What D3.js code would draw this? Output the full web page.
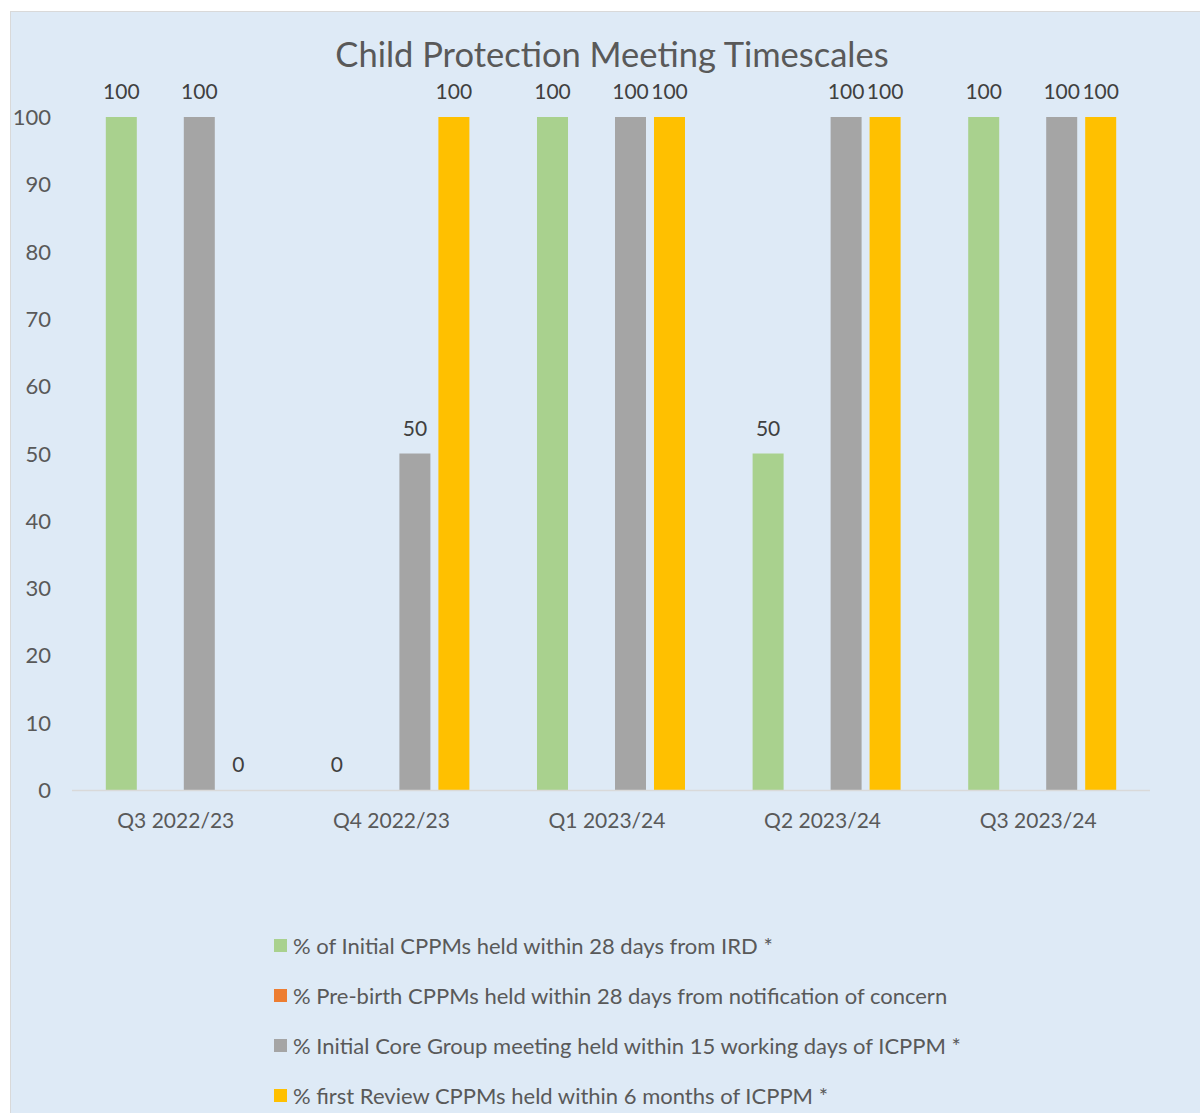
<!DOCTYPE html>
<html>
<head>
<meta charset="utf-8">
<script src="https://cdn.jsdelivr.net/npm/d3@7"></script>
<style>
  body { margin: 0; background: #ffffff; }
  svg text { font-family: Lato, "Open Sans", sans-serif; }
</style>
</head>
<body>
<div id="chart"></div>
<script>
// data
var categories = ['Q3 2022/23', 'Q4 2022/23', 'Q1 2023/24', 'Q2 2023/24', 'Q3 2023/24'];
var series_names = [
    '% of Initial CPPMs held within 28 days from IRD *',
    '% Pre-birth CPPMs held within 28 days from notification of concern',
    '% Initial Core Group meeting held within 15 working days of ICPPM *',
    '% first Review CPPMs held within 6 months of ICPPM *'
];
var initial_cppm = [100, 0, 100, 50, 100];
var prebirth_cppm = [null, null, null, null, null];
var core_group = [100, 50, 100, 100, 100];
var review_cppm = [0, 100, 100, 100, 100];
var y_ticks = [0, 10, 20, 30, 40, 50, 60, 70, 80, 90, 100];

var colors = ['#A9D18E', '#ED7D31', '#A5A5A5', '#FFC000'];
var all_series = [initial_cppm, prebirth_cppm, core_group, review_cppm];

var width = 1200;
var height = 1113;

var plot_left = 72;
var plot_right = 1150;
var plot_top = 117;
var plot_bottom = 790;

var svg = d3.select('#chart')
  .append('svg')
    .attr('width', width)
    .attr('height', height);

// chart area
svg.append('rect')
    .attr('x', 10.5)
    .attr('y', 11.5)
    .attr('width', width)
    .attr('height', height)
    .attr('fill', '#DEEAF6')
    .attr('stroke', '#D9D9D9')
    .attr('stroke-width', 1);

var x = d3.scaleBand()
    .domain(categories)
    .range([plot_left, plot_right]);

var x_inner = d3.scaleBand()
    .domain(d3.range(series_names.length))
    .range([0, x.bandwidth()])
    .paddingInner(0.205)
    .paddingOuter(0.867);

var y = d3.scaleLinear()
    .domain([0, 100])
    .range([plot_bottom, plot_top]);

// title
svg.append('text')
    .attr('x', 612)
    .attr('y', 67)
    .attr('text-anchor', 'middle')
    .attr('font-size', '34.5px')
    .attr('fill', '#595959')
    .text('Child Protection Meeting Timescales');

// y axis labels
svg.append('g')
    .selectAll('text.y-tick')
    .data(y_ticks)
  .enter()
    .append('text')
    .attr('class', 'y-tick')
    .attr('text-anchor', 'end')
    .attr('font-size', '22px')
    .attr('fill', '#595959')
    .attr('x', 51)
    .attr('y', function(d) { return y(d) + 8; })
    .text(function(d) { return d; });

// bars
for (var s = 0; s < all_series.length; s++) {
    var vals = all_series[s];
    var rows = categories.map(function(c, i) { return {cat: c, v: vals[i]}; })
        .filter(function(d) { return d.v !== null; });

    var g = svg.append('g');
    g.selectAll('rect')
        .data(rows)
      .enter()
        .append('rect')
        .attr('fill', colors[s])
        .attr('x', function(d) { return x(d.cat) + x_inner(s); })
        .attr('width', x_inner.bandwidth())
        .attr('y', function(d) { return y(d.v); })
        .attr('height', function(d) { return y(0) - y(d.v); });

    g.selectAll('text')
        .data(rows)
      .enter()
        .append('text')
        .attr('text-anchor', 'middle')
        .attr('font-size', '21px')
        .attr('fill', '#404040')
        .attr('x', function(d) { return x(d.cat) + x_inner(s) + x_inner.bandwidth() / 2; })
        .attr('y', function(d) { return y(d.v) - 18; })
        .text(function(d) { return d.v; });
}

// x axis line
svg.append('line')
    .attr('x1', plot_left)
    .attr('x2', plot_right)
    .attr('y1', plot_bottom + 0.5)
    .attr('y2', plot_bottom + 0.5)
    .attr('stroke', '#D9D9D9')
    .attr('stroke-width', 1.5);

// x axis labels
svg.append('g')
    .selectAll('text.x-tick')
    .data(categories)
  .enter()
    .append('text')
    .attr('class', 'x-tick')
    .attr('text-anchor', 'middle')
    .attr('font-size', '21px')
    .attr('fill', '#595959')
    .attr('x', function(d) { return x(d) + x.bandwidth() / 2 - 4; })
    .attr('y', 828)
    .text(function(d) { return d; });

// legend
var legend = svg.append('g')
    .selectAll('g.legend')
    .data(series_names)
  .enter()
    .append('g')
    .attr('class', 'legend')
    .attr('transform', function(d, i) { return 'translate(274,' + (946 + i * 50) + ')'; });

legend.append('rect')
    .attr('x', 0)
    .attr('y', -7)
    .attr('width', 13)
    .attr('height', 13)
    .attr('fill', function(d, i) { return colors[i]; });

legend.append('text')
    .attr('x', 19)
    .attr('y', 8)
    .attr('font-size', '22px')
    .attr('fill', '#595959')
    .text(function(d) { return d; });
</script>
</body>
</html>
